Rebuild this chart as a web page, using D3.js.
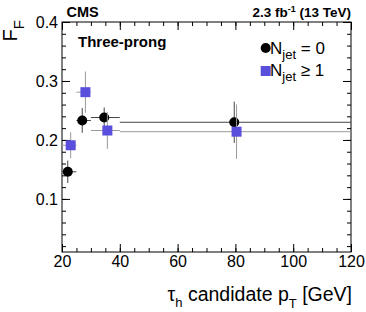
<!DOCTYPE html>
<html>
<head>
<meta charset="utf-8">
<script src="https://cdn.jsdelivr.net/npm/d3@7"></script>
<style>
  body { margin: 0; background: #fff; }
  svg { font-family: "Liberation Sans", Arial, Helvetica, sans-serif; }
  .axis path { display: none; }
  .axis line { stroke: #000; stroke-width: 1; }
  .axis text { font-size: 16px; fill: #000; }
</style>
</head>
<body>
<div id="chart"></div>
<script>
(function() {
  var binLo, binHi, xTicks, yTicks, nj0Pt, nj0Ff, nj0Err, nj1Pt, nj1Ff, nj1Err;

  // tau pT bins [GeV]
  binLo = [20, 25, 30, 40];
  binHi = [25, 30, 40, 120];

  // Njet = 0
  nj0Pt = [22.0, 27.0, 34.6, 79.6];
  nj0Ff = [0.146, 0.233, 0.238, 0.230];
  nj0Err = [0.019, 0.021, 0.017, 0.035];

  // Njet >= 1
  nj1Pt = [23.0, 28.1, 35.7, 80.4];
  nj1Ff = [0.191, 0.281, 0.216, 0.214];
  nj1Err = [0.022, 0.035, 0.031, 0.046];

  xTicks = [20, 40, 60, 80, 100, 120];
  yTicks = [0.1, 0.2, 0.3, 0.4];

  var W = 366, H = 312;
  var frame = { left: 62, right: 351, top: 22, bottom: 252 };

  var svg = d3.select('#chart').append('svg').attr('width', W).attr('height', H);

  var x = d3.scaleLinear().domain([20, 120]).range([frame.left, frame.right]);
  var y = d3.scaleLinear().domain([0.01, 0.4]).range([frame.bottom, frame.top]);

  var xMinor = d3.range(20, 120.01, 5);
  var yMinor = d3.range(0.02, 0.401, 0.02);

  // ticks, ROOT style: inside the frame on all four sides
  var addAxis = function(axis, tr) {
    return svg.append('g').attr('class', 'axis').attr('transform', tr).call(axis);
  };
  addAxis(d3.axisBottom(x).tickValues(xTicks).tickSize(-8).tickPadding(4).tickFormat(d3.format('d')),
    'translate(0,' + frame.bottom + ')');
  addAxis(d3.axisBottom(x).tickValues(xMinor).tickSize(-4).tickFormat(''), 'translate(0,' + frame.bottom + ')');
  addAxis(d3.axisTop(x).tickValues(xTicks).tickSize(-8).tickFormat(''), 'translate(0,' + frame.top + ')');
  addAxis(d3.axisTop(x).tickValues(xMinor).tickSize(-4).tickFormat(''), 'translate(0,' + frame.top + ')');
  addAxis(d3.axisLeft(y).tickValues(yTicks).tickSize(-8).tickPadding(4).tickFormat(d3.format('.1f')),
    'translate(' + frame.left + ',0)');
  addAxis(d3.axisLeft(y).tickValues(yMinor).tickSize(-4).tickFormat(''), 'translate(' + frame.left + ',0)');
  addAxis(d3.axisRight(y).tickValues(yTicks).tickSize(-8).tickFormat(''), 'translate(' + frame.right + ',0)');
  addAxis(d3.axisRight(y).tickValues(yMinor).tickSize(-4).tickFormat(''), 'translate(' + frame.right + ',0)');

  svg.append('rect')
    .attr('x', frame.left).attr('y', frame.top)
    .attr('width', frame.right - frame.left).attr('height', frame.bottom - frame.top)
    .attr('fill', 'none').attr('stroke', '#000').attr('stroke-width', 1);

  // points with error bars
  var drawSeries = function(pts, ff, err, lineColor, marker) {
    var g = svg.append('g');
    var rows = pts.map(function(p, i) {
      return { pt: p, ff: ff[i], err: err[i], lo: binLo[i], hi: binHi[i] };
    });
    g.selectAll('line.h').data(rows).enter().append('line').attr('class', 'h')
      .attr('x1', function(d) { return x(d.lo); })
      .attr('x2', function(d) { return x(d.hi); })
      .attr('y1', function(d) { return y(d.ff); })
      .attr('y2', function(d) { return y(d.ff); })
      .attr('stroke', lineColor).attr('stroke-width', 1);
    g.selectAll('line.v').data(rows).enter().append('line').attr('class', 'v')
      .attr('x1', function(d) { return x(d.pt); })
      .attr('x2', function(d) { return x(d.pt); })
      .attr('y1', function(d) { return y(d.ff - d.err); })
      .attr('y2', function(d) { return y(d.ff + d.err); })
      .attr('stroke', lineColor).attr('stroke-width', 1);
    if (marker === 'circle') {
      g.selectAll('circle').data(rows).enter().append('circle')
        .attr('cx', function(d) { return x(d.pt); })
        .attr('cy', function(d) { return y(d.ff); })
        .attr('r', 5).attr('fill', '#000');
    } else {
      g.selectAll('rect').data(rows).enter().append('rect')
        .attr('x', function(d) { return x(d.pt) - 5; })
        .attr('y', function(d) { return y(d.ff) - 5; })
        .attr('width', 10).attr('height', 10).attr('fill', '#5a4fdc');
    }
  };
  drawSeries(nj0Pt, nj0Ff, nj0Err, '#444', 'circle');
  drawSeries(nj1Pt, nj1Ff, nj1Err, '#9a9a9a', 'square');

  // labels
  svg.append('text').attr('x', 66.5).attr('y', 16.5)
    .attr('font-size', 14.5).attr('font-weight', 'bold').text('CMS');

  var lumi = svg.append('text').attr('x', frame.right).attr('y', 16.5)
    .attr('text-anchor', 'end').attr('font-size', 13.5).attr('font-weight', 'bold');
  lumi.append('tspan').text('2.3 fb');
  lumi.append('tspan').attr('font-size', 9).attr('dy', -5).text('-1');
  lumi.append('tspan').attr('dy', 5).text(' (13 TeV)');

  svg.append('text').attr('x', 78).attr('y', 46.5)
    .attr('font-size', 15).attr('font-weight', 'bold').text('Three-prong');

  // legend
  var legend = svg.append('g');
  legend.append('circle').attr('cx', 265.7).attr('cy', 48).attr('r', 5).attr('fill', '#000');
  legend.append('rect').attr('x', 260.7).attr('y', 66).attr('width', 10).attr('height', 10).attr('fill', '#5a4fdc');
  var legText = function(yb, rel) {
    var t = legend.append('text').attr('x', 270).attr('y', yb).attr('font-size', 17);
    t.append('tspan').text('N');
    t.append('tspan').attr('font-size', 13).attr('dy', 5).text('jet');
    t.append('tspan').attr('dy', -5).text(' ' + rel);
  };
  legText(53.5, '= 0');
  legText(76, '\u2265 1');

  // axis titles
  var xt = svg.append('text').attr('x', frame.right + 1).attr('y', 300.5)
    .attr('text-anchor', 'end').attr('font-size', 19.5);
  xt.append('tspan').text('\u03c4');
  xt.append('tspan').attr('font-size', 13).attr('dy', 6).text('h');
  xt.append('tspan').attr('dy', -6).text(' candidate p');
  xt.append('tspan').attr('font-size', 13).attr('dy', 7).text('T');
  xt.append('tspan').attr('dy', -7).text(' [GeV]');

  var yt = svg.append('text').attr('transform', 'translate(17,20) rotate(-90)')
    .attr('text-anchor', 'end').attr('font-size', 20);
  yt.append('tspan').text('F');
  yt.append('tspan').attr('font-size', 15).attr('dy', 7).text('F');
}).call(this);
</script>
</body>
</html>
